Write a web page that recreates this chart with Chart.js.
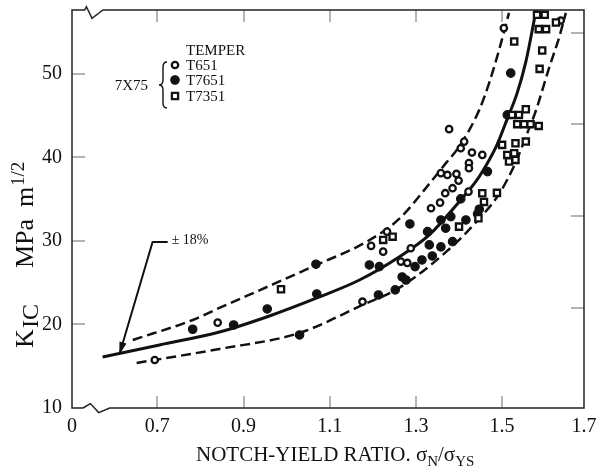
<!DOCTYPE html>
<html>
<head>
<meta charset="utf-8">
<script src="https://cdn.jsdelivr.net/npm/chart.js@4.4.0/dist/chart.umd.min.js"></script>
<style>
  html, body { margin: 0; padding: 0; background: #fff; }
  #wrap { width: 597px; height: 472px; }
</style>
</head>
<body>
<div id="wrap"><canvas id="chart" width="597" height="472"></canvas></div>
<script>
// notch-yield ratio vs K_IC, 7X75 plate, three tempers
const t651 = [
  [0.694, 15.75], [0.840, 20.22], [1.176, 22.73], [1.196, 29.41], [1.224, 28.72],
  [1.233, 31.12], [1.265, 27.53], [1.280, 27.37], [1.288, 29.13], [1.335, 33.92],
  [1.356, 34.59], [1.368, 35.72], [1.385, 36.32], [1.358, 38.12], [1.373, 37.91],
  [1.394, 38.03], [1.399, 37.23], [1.423, 39.32], [1.423, 38.72], [1.422, 35.91],
  [1.412, 41.90], [1.404, 41.11], [1.430, 40.59], [1.454, 40.31], [1.377, 43.39],
  [1.504, 55.49], [1.636, 56.40]
];
const t7651 = [
  [0.782, 19.43], [0.877, 19.94], [0.955, 21.86], [1.030, 18.75], [1.068, 27.22],
  [1.070, 23.66], [1.192, 27.13], [1.215, 26.93], [1.213, 23.54], [1.252, 24.14],
  [1.268, 25.69], [1.277, 25.33], [1.298, 26.93], [1.314, 27.73], [1.338, 28.21],
  [1.331, 29.53], [1.358, 29.29], [1.385, 29.92], [1.327, 31.12], [1.286, 32.04],
  [1.358, 32.52], [1.369, 31.53], [1.381, 32.92], [1.416, 32.52], [1.443, 33.24],
  [1.447, 33.80], [1.404, 35.04], [1.466, 38.31], [1.512, 45.10], [1.520, 50.10]
];
const t7351 = [
  [0.987, 24.22], [1.224, 30.13], [1.246, 30.52], [1.400, 31.72], [1.445, 32.73],
  [1.454, 35.72], [1.458, 34.68], [1.488, 35.76], [1.500, 41.51], [1.512, 40.31],
  [1.528, 40.51], [1.516, 39.51], [1.531, 39.71], [1.531, 41.71], [1.555, 41.90],
  [1.523, 45.10], [1.539, 45.10], [1.555, 45.78], [1.535, 43.99], [1.551, 43.99],
  [1.566, 43.99], [1.585, 43.78], [1.528, 53.88], [1.593, 52.80], [1.587, 50.61],
  [1.581, 57.08], [1.599, 57.08], [1.585, 55.37], [1.602, 55.37], [1.625, 56.16]
];

// mean curve and the +/-18% band
const meanCurve = [
  [0.573, 16.11], [0.705, 17.55], [0.844, 19.10], [0.960, 21.02], [1.076, 23.30],
  [1.169, 25.33], [1.261, 28.09], [1.331, 30.73], [1.400, 34.68], [1.440, 37.19],
  [1.470, 39.71], [1.488, 41.51], [1.511, 44.50], [1.535, 47.74], [1.555, 51.45],
  [1.579, 57.68]
];
const upperBand = [
  [0.643, 18.15], [0.782, 20.54], [0.844, 21.98], [0.960, 24.62], [1.069, 27.13],
  [1.185, 29.89], [1.261, 32.64], [1.331, 36.84], [1.370, 39.35], [1.400, 41.27],
  [1.447, 45.70], [1.470, 48.94], [1.493, 52.89], [1.516, 57.32]
];
const lowerBand = [
  [0.652, 15.39], [0.844, 17.07], [1.030, 18.99], [1.176, 22.34], [1.261, 24.38],
  [1.370, 28.69], [1.440, 32.28], [1.493, 35.64], [1.532, 39.47], [1.555, 42.47],
  [1.579, 45.70], [1.609, 50.73], [1.632, 54.33], [1.648, 57.32]
];

// axis is broken between 0 and 0.7, so the left end stands for "0"
const xTicks = [0.502, 0.7, 0.9, 1.1, 1.3, 1.5, 1.69];
const xTickLabels = ['0', '0.7', '0.9', '1.1', '1.3', '1.5', '1.7'];
const yTicks = [10, 20, 30, 40, 50];
const ksiTicks = [20, 30, 40, 50];   // unlabelled right-hand ticks, ksi in^1/2
const MPA_PER_KSI = 1.0988;
const Y_MAX = 57.66;

// "± 18%" leader: arrow tip, knee, end (data units)
const bandNote = { tip: [0.613, 16.59], knee: [0.689, 29.89], end: [0.724, 29.89], text: '± 18%' };

const SERIF = '"Liberation Serif", "Times New Roman", serif';
const INK = '#111';

const xy = arr => arr.map(p => ({ x: p[0], y: p[1] }));

function curve(data, dash, width) {
  return {
    data: xy(data), showLine: true, pointRadius: 0, pointHoverRadius: 0,
    borderColor: INK, borderWidth: width, borderDash: dash,
    cubicInterpolationMode: 'monotone', fill: false, order: 10
  };
}

// hidden tick marks keep the labels off the axis without adding top padding
const hiddenTicks = len => ({ display: true, drawOnChartArea: false, drawTicks: true, tickLength: len, tickColor: 'rgba(0,0,0,0)' });

function drawMarker(ctx, style, x, y) {
  ctx.beginPath();
  ctx.strokeStyle = INK;
  if (style === 'open') {
    ctx.lineWidth = 2.3;
    ctx.arc(x, y, 3.2, 0, Math.PI * 2);
    ctx.fillStyle = '#fff'; ctx.fill(); ctx.stroke();
  } else if (style === 'filled') {
    ctx.lineWidth = 1.2;
    ctx.arc(x, y, 4.2, 0, Math.PI * 2);
    ctx.fillStyle = INK; ctx.fill(); ctx.stroke();
  } else {
    ctx.lineWidth = 2.3;
    ctx.rect(x - 3.1, y - 3.1, 6.2, 6.2);
    ctx.fillStyle = '#fff'; ctx.fill(); ctx.stroke();
  }
}

const decor = {
  id: 'decor',
  beforeDatasetsDraw(chart) {
    const { ctx, chartArea: a, scales } = chart;
    ctx.save();
    ctx.strokeStyle = '#b4b4b4';
    ctx.lineWidth = 2;
    ctx.beginPath();
    scales.x.ticks.forEach(t => {
      if (t.value <= scales.x.min || t.value >= scales.x.max) return;
      const px = Math.round(scales.x.getPixelForValue(t.value));
      ctx.moveTo(px, a.bottom); ctx.lineTo(px, a.bottom - 12);
      ctx.moveTo(px, a.top); ctx.lineTo(px, a.top + 12);
    });
    scales.y.ticks.forEach(t => {
      if (t.value <= scales.y.min) return;
      const py = Math.round(scales.y.getPixelForValue(t.value));
      ctx.moveTo(a.left, py); ctx.lineTo(a.left + 13, py);
    });
    scales.ksi.ticks.forEach(t => {
      const py = Math.round(scales.ksi.getPixelForValue(t.value));
      ctx.moveTo(a.right, py); ctx.lineTo(a.right - 13, py);
    });
    ctx.stroke();
    ctx.restore();
  },
  afterDatasetsDraw(chart) {
    const { ctx, chartArea: a, scales } = chart;
    const X = v => scales.x.getPixelForValue(v);
    const Y = v => scales.y.getPixelForValue(v);
    ctx.save();

    // frame with break marks on top and bottom edges
    const L = a.left, R = a.right, T = a.top, B = a.bottom;
    ctx.strokeStyle = '#222';
    ctx.lineWidth = 1.5;
    ctx.beginPath();
    ctx.moveTo(L + 11, B); ctx.lineTo(L, B); ctx.lineTo(L, T); ctx.lineTo(L + 12.7, T);
    ctx.lineTo(L + 14.4, T - 3.3); ctx.lineTo(L + 20, T + 8.3); ctx.lineTo(L + 31, T);
    ctx.lineTo(R, T); ctx.lineTo(R, B); ctx.lineTo(L + 37.7, B);
    ctx.lineTo(L + 26.7, B + 4.6); ctx.lineTo(L + 18.4, B - 4.4); ctx.lineTo(L + 11, B);
    ctx.stroke();

    // x title
    ctx.fillStyle = INK;
    ctx.textBaseline = 'alphabetic';
    ctx.textAlign = 'left';
    const xBig = '21px ' + SERIF, xSmall = '15px ' + SERIF;
    let tx = L + 124;
    [['NOTCH-YIELD RATIO. σ', xBig, 0], ['N', xSmall, 5], ['/σ', xBig, 0], ['YS', xSmall, 5]].forEach(p => {
      ctx.font = p[1];
      ctx.fillText(p[0], tx, 461 + p[2]);
      tx += ctx.measureText(p[0]).width;
    });

    // y title, read bottom to top; parts placed along the baseline
    ctx.save();
    ctx.translate(33, 348);
    ctx.rotate(-Math.PI / 2);
    [['K', 26, 0, 0], ['IC', 24, 20, 5], ['MPa', 26, 80, 0], ['m', 26, 141, 0], ['1/2', 19, 162, -9]].forEach(p => {
      ctx.font = p[1] + 'px ' + SERIF;
      ctx.fillText(p[0], p[2], p[3]);
    });
    ctx.restore();

    // ± 18% leader with arrow
    const tip = [X(bandNote.tip[0]), Y(bandNote.tip[1])];
    const knee = [X(bandNote.knee[0]), Y(bandNote.knee[1])];
    const end = [X(bandNote.end[0]), Y(bandNote.end[1])];
    ctx.strokeStyle = INK;
    ctx.lineWidth = 2;
    ctx.beginPath();
    ctx.moveTo(end[0], end[1]); ctx.lineTo(knee[0], knee[1]); ctx.lineTo(tip[0], tip[1]);
    ctx.stroke();
    const ang = Math.atan2(tip[1] - knee[1], tip[0] - knee[0]);
    const c = Math.cos(ang), s = Math.sin(ang);
    ctx.beginPath();
    ctx.moveTo(tip[0] + 2 * c, tip[1] + 2 * s);
    ctx.lineTo(tip[0] - 11 * c + 3.6 * s, tip[1] - 11 * s - 3.6 * c);
    ctx.lineTo(tip[0] - 11 * c - 3.6 * s, tip[1] - 11 * s + 3.6 * c);
    ctx.closePath();
    ctx.fillStyle = INK;
    ctx.fill();
    ctx.font = '14px ' + SERIF;
    ctx.textBaseline = 'middle';
    ctx.fillText(bandNote.text, end[0] + 4, end[1] - 2);

    // legend block
    const lx = L + 103, ltx = L + 114;
    ctx.font = '15px ' + SERIF;
    ctx.fillText('TEMPER', ltx, T + 41);
    const rows = [['open', 'T651', T + 55], ['filled', 'T7651', T + 70], ['square', 'T7351', T + 86]];
    rows.forEach(r => {
      drawMarker(ctx, r[0], lx, r[2]);
      ctx.fillStyle = INK;
      ctx.fillText(r[1], ltx, r[2] + 1);
    });
    ctx.textAlign = 'right';
    ctx.fillText('7X75', L + 76, T + 76);
    // brace
    const bx = L + 91, by0 = T + 52, by1 = T + 98, bm = (by0 + by1) / 2;
    ctx.lineWidth = 1.4;
    ctx.beginPath();
    ctx.moveTo(bx + 4, by0);
    ctx.quadraticCurveTo(bx, by0, bx, by0 + 5);
    ctx.lineTo(bx, bm - 5);
    ctx.quadraticCurveTo(bx, bm, bx - 4, bm);
    ctx.quadraticCurveTo(bx, bm, bx, bm + 5);
    ctx.lineTo(bx, by1 - 5);
    ctx.quadraticCurveTo(bx, by1, bx + 4, by1);
    ctx.stroke();

    ctx.restore();
  }
};

new Chart(document.getElementById('chart'), {
  type: 'scatter',
  data: {
    datasets: [
      { label: 'T651', data: xy(t651), pointStyle: 'circle', pointRadius: 3.2, pointBorderWidth: 2.3,
        pointBackgroundColor: '#fff', pointBorderColor: INK, pointHoverRadius: 3.2, order: 3 },
      { label: 'T7651', data: xy(t7651), pointStyle: 'circle', pointRadius: 4.2, pointBorderWidth: 1.2,
        pointBackgroundColor: INK, pointBorderColor: INK, pointHoverRadius: 4.2, order: 2 },
      { label: 'T7351', data: xy(t7351), pointStyle: 'rect', pointRadius: 4.4, pointBorderWidth: 2.3,
        pointBackgroundColor: '#fff', pointBorderColor: INK, pointHoverRadius: 4.4, order: 1 },
      curve(meanCurve, [], 3),
      curve(upperBand, [10, 5], 2.5),
      curve(lowerBand, [10, 5], 2.5)
    ]
  },
  options: {
    responsive: false,
    animation: false,
    devicePixelRatio: 1,
    layout: { padding: { top: 10, left: 0, right: 0, bottom: 0 } },
    plugins: { legend: { display: false }, tooltip: { enabled: false } },
    scales: {
      x: {
        type: 'linear', position: 'bottom', min: 0.502, max: 1.69,
        grid: hiddenTicks(9), border: { display: false },
        afterBuildTicks: s => { s.ticks = xTicks.map(v => ({ value: v })); },
        afterFit: s => { s.height = 64; },
        ticks: {
          autoSkip: false, maxRotation: 0, padding: 0, color: INK,
          font: { family: SERIF, size: 20, lineHeight: 1 },
          callback: (v, i) => xTickLabels[i]
        }
      },
      y: {
        type: 'linear', position: 'left', min: 10, max: Y_MAX,
        grid: hiddenTicks(10), border: { display: false },
        afterBuildTicks: s => { s.ticks = yTicks.map(v => ({ value: v })); },
        afterFit: s => { s.width = 72; },
        ticks: { padding: 0, color: INK, font: { family: SERIF, size: 20, lineHeight: 1 } }
      },
      ksi: {
        type: 'linear', position: 'right', min: 10 / MPA_PER_KSI, max: Y_MAX / MPA_PER_KSI,
        grid: { display: false, drawTicks: false }, border: { display: false },
        afterBuildTicks: s => { s.ticks = ksiTicks.map(v => ({ value: v })); },
        afterFit: s => { s.width = 13; },
        ticks: { display: false }
      }
    }
  },
  plugins: [decor]
});
</script>
</body>
</html>
